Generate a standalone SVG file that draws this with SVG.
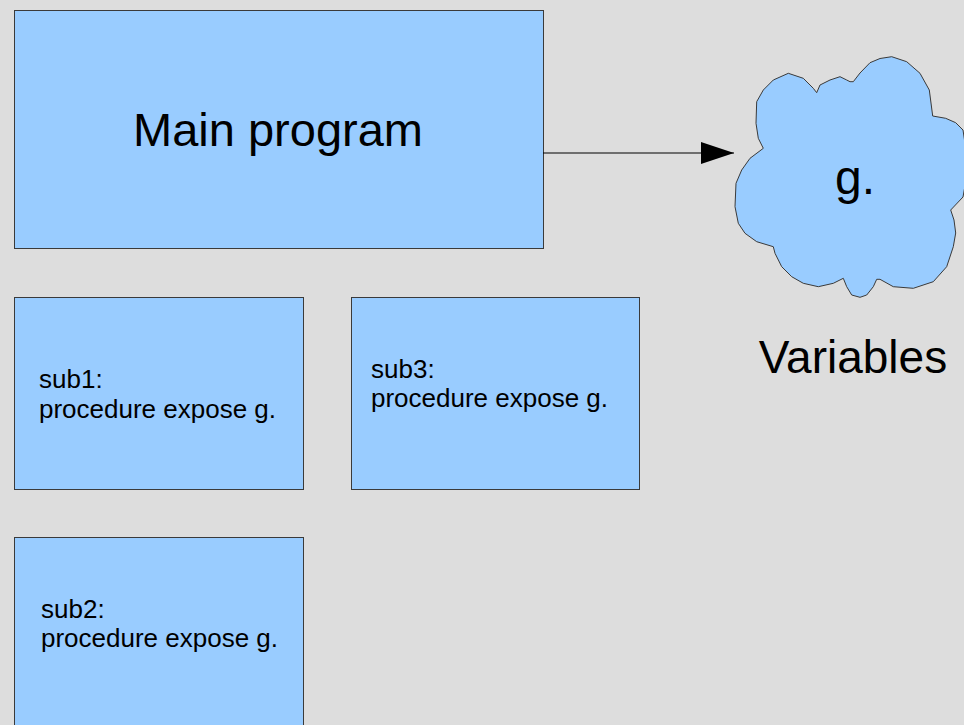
<svg xmlns="http://www.w3.org/2000/svg" width="964" height="725" viewBox="0 0 964 725">
<style>
.box{fill:#99ccff;stroke:#3a3a3a;stroke-width:1}
.t{font-family:"Liberation Sans",Arial,sans-serif;fill:#000}
.big{font-size:46px}
.small{font-size:26px}
.conn{stroke:#000;stroke-width:1.2;fill:none}
</style>
<defs>
<marker id="arr" markerUnits="userSpaceOnUse" markerWidth="34" markerHeight="24" refX="33" refY="11" orient="auto">
<polygon points="0,0 33,11 0,22" fill="#000"/>
</marker>
</defs>
<rect width="964" height="725" fill="#dddddd"/>
<g id="main">
<rect class="box" x="14.5" y="10.5" width="529" height="238"/>
<text class="t" style="font-size:47px" x="278" y="146" text-anchor="middle">Main program</text>
</g>
<g id="sub1">
<rect class="box" x="14.5" y="297.5" width="289" height="192"/>
<text class="t small" x="39" y="388">sub1:</text>
<text class="t small" x="39" y="418">procedure expose g.</text>
</g>
<g id="sub3">
<rect class="box" x="351.5" y="297.5" width="288" height="192"/>
<text class="t small" x="371" y="378">sub3:</text>
<text class="t small" x="371" y="407">procedure expose g.</text>
</g>
<g id="sub2">
<rect class="box" x="14.5" y="537.5" width="289" height="200"/>
<text class="t small" x="41" y="618">sub2:</text>
<text class="t small" x="41" y="647">procedure expose g.</text>
</g>
<g id="variables">
<path class="box" d="M816.7,92.7 L820,85 L830,80 L840,76.7 L846.7,80 L850,81.7 L853.3,81.7 L860,73 L870,62.7 L880,58.5 L891.7,56.7 L906.7,61.7 L920,73.3 L929.3,90 L932.7,116 L945.7,118.3 L955.7,122.7 L963,130 L966,150 L966,180 L963,197 L950.7,210 L954,220 L955.7,233 L953.3,246.7 L946.7,266.7 L933.3,281.7 L913.3,288.3 L893.3,286.7 L880,279.3 L876.7,279.3 L873.3,286.7 L866.7,295 L860,297.3 L851.7,295 L846.7,286.7 L843.3,278.3 L833.3,283.3 L818.3,286.7 L803.3,283.3 L791.7,276.7 L781.7,266.7 L775,253.3 L773.3,246.7 L756.7,241.7 L745,233.3 L738.3,223.3 L735,206.7 L736,183.3 L741.7,170 L750,158.3 L763.3,148.3 L758.3,138.3 L756,123.3 L756.7,101.7 L763.3,90 L773.3,80 L788.3,73.3 L803.3,78.3 L813.3,88.3 Z"/>
<text class="t" style="font-size:48px" x="855" y="194" text-anchor="middle">g.</text>
<text class="t big" x="853" y="373" text-anchor="middle">Variables</text>
</g>
<g id="connectors">
<line class="conn" x1="543" y1="153" x2="734" y2="153" marker-end="url(#arr)"/>
</g>
</svg>
